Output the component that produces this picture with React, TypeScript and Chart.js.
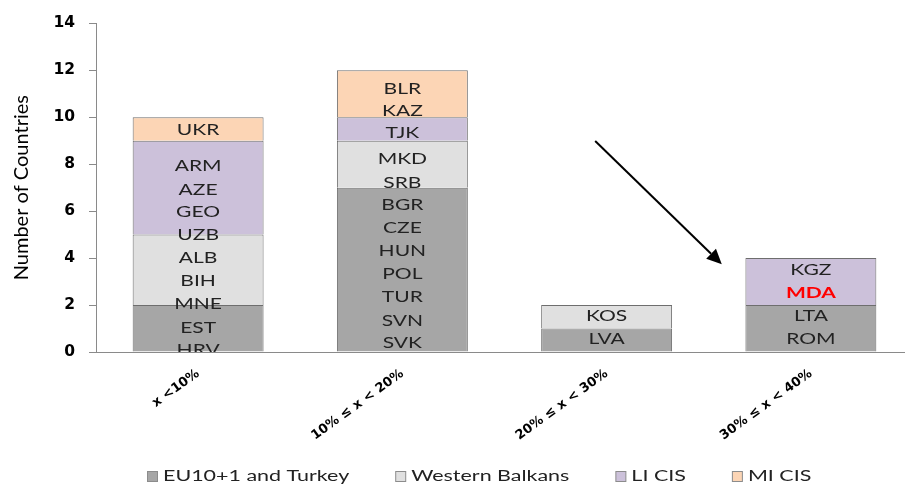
import React, { useEffect, useRef } from "react";
import { Chart, registerables } from "chart.js";

Chart.register(...registerables);

// ---------- data ----------
const categories = ["x <10%", "10% ≤ x < 20%", "20% ≤ x < 30%", "30% ≤ x < 40%"];
const seriesNames = ["EU10+1 and Turkey", "Western Balkans", "LI CIS", "MI CIS"];
const euValues = [2, 7, 1, 2];
const wbValues = [3, 2, 1, 0];
const liCisValues = [4, 1, 0, 2];
const miCisValues = [1, 2, 0, 0];
const seriesColors = ["#a6a6a6", "#e0e0e0", "#ccc1da", "#fcd5b5"];

const yMin = 0;
const yMax = 14;
const yStep = 2;

// country codes written inside each bar (bottom to top) and their vertical positions (data units)
const countryCodes = [
  ["HRV", "EST", "MNE", "BIH", "ALB", "UZB", "GEO", "AZE", "ARM", "UKR"],
  ["SVK", "SVN", "TUR", "POL", "HUN", "CZE", "BGR", "SRB", "MKD", "TJK", "KAZ", "BLR"],
  ["LVA", "KOS"],
  ["ROM", "LTA", "MDA", "KGZ"],
];
const countryCodeY = [
  [0.08, 1.02, 2.03, 3.0, 4.0, 4.98, 5.97, 6.9, 7.9, 9.45],
  [0.37, 1.32, 2.33, 3.3, 4.27, 5.26, 6.26, 7.2, 8.21, 9.33, 10.23, 11.17],
  [0.54, 1.53],
  [0.54, 1.5, 2.5, 3.49],
];
const highlightedCodes = ["MDA"];

// arrow annotation (category index, value)
const arrowStart = { x: 1.944, y: 8.99 };
const arrowEnd = { x: 2.564, y: 3.74 };

// ---------- styling ----------
const TEXT_STRETCH = 1.45;
const LEGEND_STRETCH = 1.48;
const LABEL_FONT = "14.5px Lato";
const LEGEND_FONT = "14.5px Lato";
const LEGEND_LEFT = 147;
const LEGEND_Y = 476;
const LEGEND_GAP = 46;

function stretchedText(ctx: CanvasRenderingContext2D, text: string, x: number, y: number, align: "left" | "center", sx: number) {
  ctx.save();
  ctx.translate(x, y);
  ctx.scale(sx, 1);
  ctx.textAlign = align;
  ctx.textBaseline = "middle";
  ctx.fillText(text, 0, 0);
  ctx.restore();
}

const annotationPlugin = {
  id: "annotations",
  afterDatasetsDraw(chart: any) {
    const { ctx, chartArea, scales } = chart;
    const xs = scales.x;
    const ys = scales.y;
    ctx.save();
    ctx.beginPath();
    ctx.rect(chartArea.left, chartArea.top - 20, chartArea.right - chartArea.left, chartArea.bottom - chartArea.top + 20);
    ctx.clip();
    countryCodes.forEach((codes, ci) => {
      const cx = xs.getPixelForValue(ci);
      codes.forEach((code, k) => {
        const cy = ys.getPixelForValue(countryCodeY[ci][k]);
        if (highlightedCodes.includes(code)) {
          ctx.fillStyle = "#ff0000";
          ctx.font = "bold " + LABEL_FONT;
        } else {
          ctx.fillStyle = "#222222";
          ctx.font = LABEL_FONT;
        }
        stretchedText(ctx, code, cx, cy, "center", TEXT_STRETCH);
      });
    });
    ctx.restore();

    // arrow
    const x1 = xs.getPixelForValue(arrowStart.x);
    const y1 = ys.getPixelForValue(arrowStart.y);
    const x2 = xs.getPixelForValue(arrowEnd.x);
    const y2 = ys.getPixelForValue(arrowEnd.y);
    const ang = Math.atan2(y2 - y1, x2 - x1);
    const headLen = 15;
    const headHalf = 7;
    const bx = x2 - headLen * Math.cos(ang);
    const by = y2 - headLen * Math.sin(ang);
    ctx.save();
    ctx.strokeStyle = "#000";
    ctx.fillStyle = "#000";
    ctx.lineWidth = 2;
    ctx.beginPath();
    ctx.moveTo(x1, y1);
    ctx.lineTo(bx, by);
    ctx.stroke();
    ctx.beginPath();
    ctx.moveTo(x2, y2);
    ctx.lineTo(bx + headHalf * Math.sin(ang), by - headHalf * Math.cos(ang));
    ctx.lineTo(bx - headHalf * Math.sin(ang), by + headHalf * Math.cos(ang));
    ctx.closePath();
    ctx.fill();
    ctx.restore();
  },
  afterDraw(chart: any) {
    const { ctx } = chart;
    ctx.save();
    ctx.font = LEGEND_FONT;
    let x = LEGEND_LEFT;
    seriesNames.forEach((name, i) => {
      const box = 10;
      ctx.fillStyle = seriesColors[i];
      ctx.fillRect(x + 0.5, LEGEND_Y - box / 2 + 0.5, box, box);
      ctx.strokeStyle = "#8c8c8c";
      ctx.lineWidth = 1;
      ctx.strokeRect(x + 0.5, LEGEND_Y - box / 2 + 0.5, box, box);
      ctx.fillStyle = "#222222";
      const tx = x + box + 6;
      stretchedText(ctx, name, tx, LEGEND_Y, "left", LEGEND_STRETCH);
      const w = ctx.measureText(name).width * LEGEND_STRETCH;
      x = tx + w + LEGEND_GAP;
    });
    ctx.restore();
  },
};

export default function App() {
  const canvasRef = useRef<HTMLCanvasElement | null>(null);

  useEffect(() => {
    if (!canvasRef.current) return;
    const valueSets = [euValues, wbValues, liCisValues, miCisValues];
    const chart = new Chart(canvasRef.current, {
      type: "bar",
      data: {
        labels: categories,
        datasets: seriesNames.map((name, i) => ({
          label: name,
          data: valueSets[i],
          backgroundColor: seriesColors[i],
          borderColor: "#6e6e6e",
          borderWidth: 1,
          categoryPercentage: 1,
          barPercentage: 0.641,
        })),
      },
      options: {
        responsive: false,
        animation: false,
        devicePixelRatio: 1,
        layout: { padding: { top: 23, right: 2, bottom: 0, left: 0 } },
        plugins: {
          legend: { display: false },
          tooltip: { enabled: false },
          title: { display: false },
        },
        scales: {
          x: {
            stacked: true,
            grid: { display: false, drawTicks: false },
            border: { display: true, color: "#8a8a8a", dash: [1, 1], width: 1 },
            ticks: {
              color: "#000",
              font: { family: "DejaVu Sans", weight: "bold", size: 13 },
              minRotation: 36,
              maxRotation: 36,
              padding: 14,
              autoSkip: false,
            },
            afterFit(scale: any) {
              scale.height = 133;
            },
          },
          y: {
            stacked: true,
            min: yMin,
            max: yMax,
            grid: { drawOnChartArea: false, drawTicks: true, tickLength: 7, color: "#8a8a8a" },
            border: { display: true, color: "#8a8a8a", width: 1 },
            ticks: {
              stepSize: yStep,
              color: "#000",
              font: { family: "DejaVu Sans", weight: "bold", size: 15.5 },
              padding: 14,
            },
            title: {
              display: true,
              text: "Number of Countries",
              color: "#000",
              font: { family: "Lato", size: 20 },
              padding: { top: 10, bottom: 0 },
            },
            afterFit(scale: any) {
              scale.width = 96;
            },
          },
        },
      },
      plugins: [annotationPlugin],
    });
    return () => chart.destroy();
  }, []);

  return (
    <div style={{ position: "fixed", left: 0, top: 0, width: 905, height: 485, overflow: "hidden", background: "#fff" }}>
      <canvas ref={canvasRef} width={915} height={485} style={{ display: "block" }} />
    </div>
  );
}
